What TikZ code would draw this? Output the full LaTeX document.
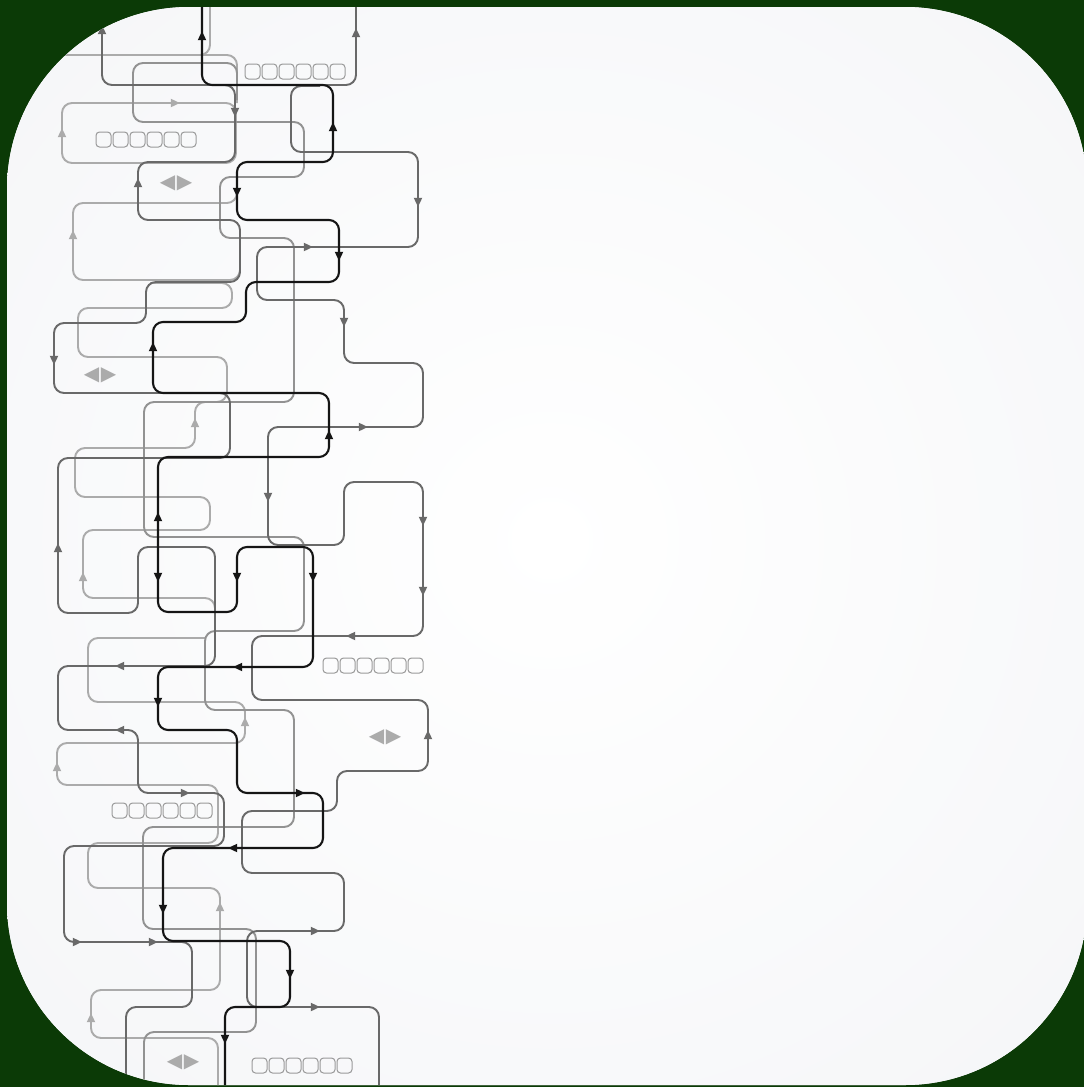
\documentclass[tikz,border=0pt]{standalone}
\usepackage{fontspec}
\newfontfamily\symfont{DejaVu Sans}
\usepackage{tikz}
\usetikzlibrary{calc}

\definecolor{boardgreen}{HTML}{0B3A06}
\definecolor{paperedge}{HTML}{F4F5F7}
\definecolor{wireK}{HTML}{151515}
\definecolor{wireD}{HTML}{696969}
\definecolor{wireM}{HTML}{929292}
\definecolor{wireL}{HTML}{ABABAB}
\definecolor{tofugray}{HTML}{9A9A9A}

\tikzset{
    wire/.style={line width=1.9pt, rounded corners=10pt},
    tip/.pic={\fill (4.8,0) -- (-4.2,4.3) -- (-4.2,-4.3) -- cycle;},
    tofubox/.style={draw=tofugray, line width=1pt, rounded corners=3.5pt},
    lrsign/.style={text=wireL, font=\symfont\fontsize{20}{20}\selectfont, inner sep=0pt}
}

\begin{document}
\begin{tikzpicture}[x=1pt, y=-1pt]

\useasboundingbox (0,0) rectangle (1084,1087);

% Green board
\fill[boardgreen] (0,0) rectangle (1084,1087);

\begin{scope}
\clip[rounded corners=182pt] (7,7) rectangle (1087,1085);

% Paper with soft light centre
\fill[paperedge] (0,0) rectangle (1090,1090);
\shade[inner color=white, outer color=paperedge] (550,540) circle (860);

% Light wires
\draw[wire, wireL] (210,0) -- (210,55) -- (40,55);
\draw[wire, wireL] (180,55) -- (237,55) -- (237,103);
\draw[wire, wireL] (62,103) rectangle (236,163);
\draw[wire, wireL] (237,180) -- (237,203) -- (73,203) -- (73,280) -- (240,280) -- (240,250);
\draw[wire, wireL] (150,283) -- (232,283) -- (232,308) -- (78,308) -- (78,357)
    -- (227,357) -- (227,402) -- (195,402) -- (195,448) -- (75,448) -- (75,497)
    -- (210,497) -- (210,530) -- (83,530) -- (83,598) -- (215,598) -- (215,640);
\draw[wire, wireL] (205,638) -- (88,638) -- (88,702) -- (245,702) -- (245,743)
    -- (57,743) -- (57,785) -- (218,785) -- (218,843) -- (88,843) -- (88,888)
    -- (220,888) -- (220,990) -- (91,990) -- (91,1038) -- (218,1038) -- (218,1095);

% Medium wire
\draw[wire, wireM] (237,100) -- (237,63) -- (133,63) -- (133,122) -- (304,122)
    -- (304,177) -- (220,177) -- (220,238) -- (294,238) -- (294,402) -- (144,402)
    -- (144,537) -- (304,537) -- (304,631) -- (205,631) -- (205,710) -- (294,710)
    -- (294,827) -- (143,827) -- (143,929) -- (256,929) -- (256,1032) -- (144,1032)
    -- (144,1095);

% Dark wires
\draw[wire, wireD] (102,0) -- (102,85) -- (356,85) -- (356,0);
\draw[wire, wireD] (215,85) -- (235,85) -- (235,162) -- (138,162) -- (138,220)
    -- (240,220) -- (240,282) -- (146,282) -- (146,323) -- (54,323) -- (54,393)
    -- (230,393) -- (230,458) -- (58,458) -- (58,613) -- (138,613) -- (138,547)
    -- (215,547) -- (215,666) -- (58,666) -- (58,730) -- (138,730) -- (138,793)
    -- (224,793) -- (224,846) -- (64,846) -- (64,942) -- (192,942) -- (192,1007)
    -- (126,1007) -- (126,1095);
\draw[wire, wireD] (320,86) -- (291,86) -- (291,152) -- (418,152) -- (418,247)
    -- (257,247) -- (257,300) -- (344,300) -- (344,363) -- (423,363) -- (423,427)
    -- (268,427) -- (268,545) -- (344,545) -- (344,482) -- (423,482) -- (423,636)
    -- (252,636) -- (252,700) -- (428,700) -- (428,771) -- (337,771) -- (337,811)
    -- (242,811) -- (242,873) -- (344,873) -- (344,931) -- (247,931) -- (247,1007)
    -- (379,1007) -- (379,1095);

% Black wire
\draw[wire, wireK, line width=2.1pt] (202,0) -- (202,85) -- (333,85) -- (333,162)
    -- (237,162) -- (237,220) -- (339,220) -- (339,282) -- (246,282) -- (246,322)
    -- (153,322) -- (153,393) -- (329,393) -- (329,457) -- (158,457) -- (158,612)
    -- (237,612) -- (237,547) -- (313,547) -- (313,667) -- (158,667) -- (158,730)
    -- (237,730) -- (237,793) -- (323,793) -- (323,848) -- (163,848) -- (163,941)
    -- (290,941) -- (290,1007) -- (225,1007) -- (225,1095);

% Arrow tips
\foreach \x/\y/\a in {62/133/90, 175/103/0, 73/235/90, 195/423/90, 83/577/90,
    245/722/90, 57/767/90, 220/907/90, 91/1018/90}
  \pic[color=wireL, rotate=\a] at (\x,\y) {tip};
\foreach \x/\y/\a in {102/30/90, 356/33/90, 235/112/-90, 138/183/90, 54/360/-90,
    58/548/90, 120/666/180, 120/730/180, 185/793/0, 77/942/0, 153/942/0,
    418/202/-90, 308/247/0, 344/322/-90, 363/427/0, 268/497/-90, 423/521/-90,
    423/591/-90, 351/636/180, 428/735/90, 315/931/0, 315/1007/0}
  \pic[color=wireD, rotate=\a] at (\x,\y) {tip};
\foreach \x/\y/\a in {202/36/90, 333/127/90, 237/192/-90, 339/256/-90, 153/347/90,
    329/435/90, 158/517/90, 158/577/-90, 237/577/-90, 313/577/-90, 238/667/180,
    158/702/-90, 300/793/0, 233/848/180, 163/909/-90, 290/974/-90, 225/1039/-90}
  \pic[color=wireK, rotate=\a] at (\x,\y) {tip};

% Boxes of unreadable text
\foreach \tx/\ty in {245/64, 96/132, 323/658, 112/803, 252/1058}
  \foreach \i in {0,...,5}
    \draw[tofubox] (\tx+17*\i,\ty) rectangle ++(15,15);

% Left and right signs
\node[lrsign] (lr1) at (176,183) {◀\kern1.5pt▶};
\node[lrsign] (lr2) at (100,375) {◀\kern1.5pt▶};
\node[lrsign] (lr3) at (385,737) {◀\kern1.5pt▶};
\node[lrsign] (lr4) at (183,1062) {◀\kern1.5pt▶};

\end{scope}

\end{tikzpicture}
\end{document}
